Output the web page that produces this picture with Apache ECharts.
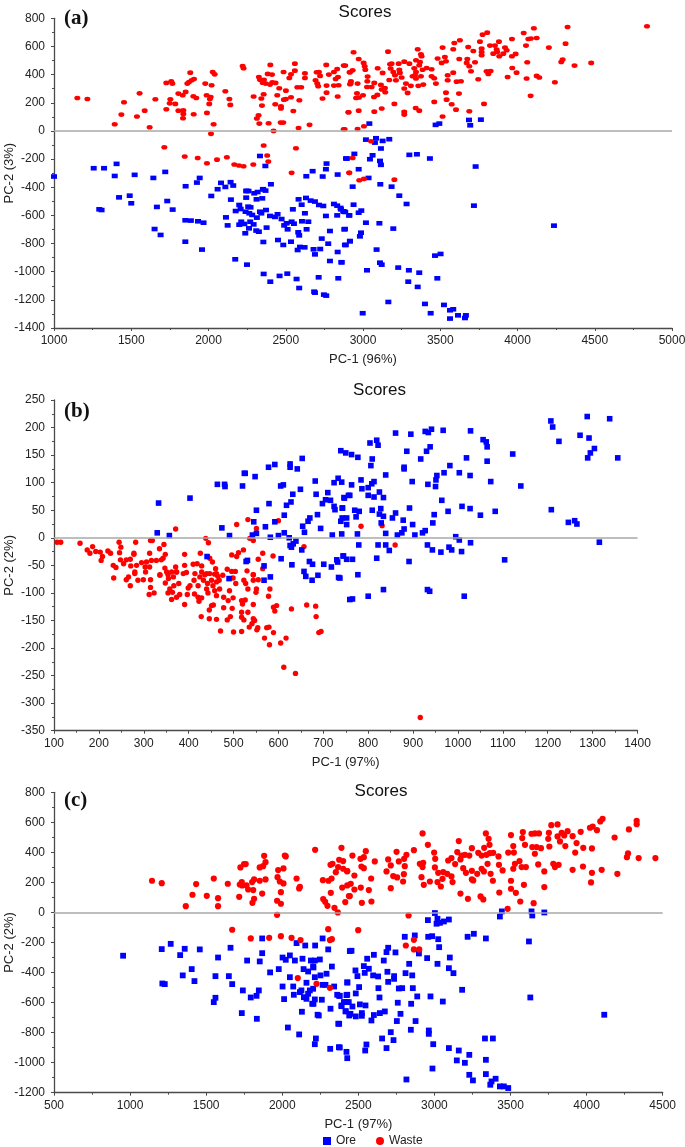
<!DOCTYPE html>
<html><head><meta charset="utf-8">
<style>html,body{margin:0;padding:0;background:#fff}#c{width:685px;height:1147px}</style>
<script src="https://cdn.jsdelivr.net/npm/echarts@6/dist/echarts.min.js"></script>
</head><body><div id="c"></div>
<script>
const wasteA=[[1151,234],[1216,227],[1393,47],[1436,116],[1453,204],[1537,102],[1554,267],[1587,144],[1619,26],[1656,225],[1727,154],[1727,341],[1753,225],[1749,196],[1759,353],[1766,336],[1785,192],[1805,265],[1805,144],[1833,253],[1837,147],[1837,121],[1835,90],[1852,277],[1863,336],[1882,414],[1874,348],[1891,360],[1906,369],[1904,118],[1902,246],[1921,234],[1979,336],[1988,253],[2014,241],[2009,227],[2005,192],[1990,128],[2020,324],[2027,419],[2040,402],[2033,47],[2016,-21],[2109,282],[2135,227],[2141,185],[2221,461],[2227,445],[2292,244],[2326,383],[2333,364],[2359,364],[2342,230],[2357,260],[2346,180],[2324,111],[2313,88],[2329,52],[2389,54],[2350,343],[2370,336],[2398,329],[2413,346],[2434,341],[2383,405],[2411,400],[2400,469],[2458,303],[2445,253],[2432,189],[2469,175],[2469,159],[2488,222],[2501,227],[2501,286],[2534,239],[2467,59],[2484,59],[2549,142],[2588,218],[2583,21],[2654,43],[2421,0],[2486,419],[2534,402],[2559,428],[2559,478],[2523,376],[2575,310],[2600,310],[2624,409],[2624,376],[2700,417],[2715,419],[2722,391],[2693,360],[2704,336],[2710,317],[2762,469],[2779,400],[2764,322],[2764,272],[2738,230],[2812,419],[2833,440],[2823,369],[2838,383],[2812,322],[2842,324],[2836,244],[2885,464],[2913,417],[2920,336],[2905,133],[2881,12],[1714,-116],[1846,-182],[1930,-192],[1990,-230],[2055,-204],[2119,-187],[2167,-239],[2197,-246],[2227,-251],[2290,-239],[2357,-104],[2380,-175],[2387,-218],[2538,-298],[2566,-123],[2911,-298],[2875,464],[2939,559],[2972,511],[3004,483],[3011,459],[3015,435],[2933,431],[2916,417],[3030,386],[3028,353],[2922,353],[2916,331],[2965,336],[3073,341],[3116,327],[3026,312],[3056,312],[3142,305],[3121,294],[3144,275],[2961,267],[3000,253],[2955,234],[2974,237],[3071,241],[3093,256],[2907,133],[2972,144],[3073,137],[3121,159],[3203,192],[3267,135],[3267,116],[3341,163],[3364,144],[2875,12],[2965,14],[3006,33],[3162,563],[3095,445],[3127,412],[3175,473],[3185,478],[3231,478],[3267,492],[3300,478],[3343,502],[3354,580],[3375,544],[3379,530],[3369,490],[3364,466],[3179,443],[3196,419],[3235,435],[3239,412],[3332,445],[3343,419],[3336,395],[3386,435],[3412,447],[3444,438],[3170,362],[3213,360],[3207,395],[3250,379],[3321,388],[3343,372],[3375,388],[3444,388],[3461,374],[3278,336],[3310,320],[3358,320],[3390,329],[3472,336],[3267,301],[3289,270],[3483,514],[3530,525],[3515,592],[3591,625],[3584,580],[3627,644],[3623,511],[3681,596],[3714,568],[3537,495],[3509,483],[3584,414],[3548,395],[3548,360],[3606,350],[3634,353],[3537,272],[3621,265],[3461,206],[3541,222],[3574,189],[3602,151],[3688,140],[3783,192],[3515,102],[3675,511],[3671,483],[3688,459],[3725,488],[3699,424],[3746,367],[3800,424],[3826,426],[3811,405],[3757,634],[3774,684],[3804,698],[3768,585],[3768,561],[3768,537],[3822,606],[3854,606],[3880,634],[3865,578],[3843,549],[3869,561],[3882,530],[3908,549],[3919,592],[3930,573],[3964,653],[3988,547],[3964,530],[3966,447],[3994,414],[3936,383],[4055,606],[4063,488],[4059,372],[4085,249],[4040,696],[4070,653],[4087,656],[4124,660],[4106,729],[4124,391],[4141,379],[4203,592],[4242,346],[4324,738],[4311,620],[4292,507],[4283,490],[4369,464],[4477,483],[4838,743],[3052,-73],[2933,-192],[2911,-298],[2976,-350],[3006,-341],[3203,-346]];
const oreA=[[1000,-324],[1257,-265],[1324,-265],[1405,-234],[1393,-320],[1522,-312],[1643,-334],[1720,-291],[1852,-393],[1943,-334],[1925,-367],[2081,-369],[2059,-414],[2109,-398],[2143,-364],[2160,-388],[2247,-426],[2333,-178],[2368,-249],[2404,-379],[2354,-414],[2633,-322],[2674,-286],[2739,-324],[2764,-232],[2760,-272],[2836,-310],[2896,-196],[1421,-472],[1490,-460],[1500,-514],[1666,-540],[1733,-498],[1768,-559],[1293,-557],[1308,-562],[1651,-697],[1690,-739],[1850,-635],[1886,-637],[1932,-642],[1968,-652],[1850,-787],[1958,-843],[2018,-462],[2145,-488],[2199,-526],[2176,-569],[2208,-555],[2113,-614],[2124,-671],[2199,-666],[2212,-645],[2232,-661],[2238,-727],[2262,-692],[2270,-645],[2292,-664],[2240,-574],[2257,-538],[2272,-543],[2264,-585],[2283,-597],[2313,-616],[2342,-585],[2333,-574],[2372,-562],[2244,-474],[2244,-427],[2259,-427],[2296,-443],[2318,-434],[2352,-415],[2369,-424],[2311,-486],[2348,-479],[2309,-708],[2326,-716],[2376,-687],[2398,-604],[2430,-611],[2447,-592],[2473,-626],[2490,-671],[2512,-699],[2506,-656],[2538,-645],[2553,-659],[2581,-720],[2587,-742],[2635,-699],[2605,-642],[2646,-645],[2624,-585],[2546,-557],[2603,-524],[2583,-486],[2631,-476],[2661,-495],[2689,-502],[2715,-526],[2743,-533],[2760,-604],[2812,-519],[2833,-531],[2833,-600],[2855,-547],[2872,-571],[2885,-576],[2911,-600],[2786,-711],[2883,-697],[2355,-789],[2450,-775],[2484,-810],[2534,-787],[2733,-765],[2775,-801],[2889,-810],[2915,-782],[2577,-846],[2592,-824],[2622,-827],[2680,-841],[2723,-839],[2689,-877],[2786,-924],[2836,-860],[2860,-933],[2173,-912],[2249,-950],[2357,-1016],[2460,-1030],[2510,-1014],[2400,-1071],[2570,-1052],[2587,-1116],[2684,-1142],[2689,-1149],[2747,-1163],[2762,-1170],[2713,-1040],[2840,-1047],[3041,52],[3470,43],[3494,52],[3686,78],[3763,80],[3694,40],[3019,-62],[3084,-52],[3077,-83],[3127,-71],[3170,-59],[3116,-125],[2890,-196],[2944,-163],[3045,-201],[3062,-173],[3110,-213],[3116,-241],[3300,-170],[3349,-166],[3433,-196],[3729,-253],[2972,-272],[3036,-334],[2933,-396],[3112,-379],[3185,-396],[3235,-460],[3282,-519],[3718,-531],[4236,-673],[2939,-524],[2857,-557],[2877,-574],[2911,-600],[2972,-581],[2989,-566],[3019,-652],[3106,-656],[3196,-694],[2879,-699],[2987,-723],[2980,-749],[2916,-784],[2883,-810],[3088,-843],[3502,-874],[3466,-886],[2862,-933],[3110,-936],[3121,-950],[3026,-990],[3228,-971],[3297,-990],[3364,-1007],[3481,-1047],[3293,-1071],[3354,-1108],[3164,-1215],[3401,-1229],[2998,-1295],[3438,-1295],[3524,-1236],[3563,-1274],[3584,-1267],[3615,-1310],[3563,-1333],[3660,-1329],[3666,-1310]];
const wasteB=[[107,-8],[115,-8],[158,-10],[245,-8],[249,-17],[282,-8],[315,-5],[319,-5],[371,16],[345,-12],[335,-20],[313,-28],[438,-1],[444,-9],[426,-28],[391,-30],[507,24],[532,33],[551,17],[536,-1],[544,-5],[600,31],[657,-16],[522,-22],[511,-27],[507,-34],[496,-31],[565,-28],[555,-39],[588,-33],[565,-56],[174,-22],[180,-28],[186,-16],[193,-25],[203,-26],[208,-34],[205,-41],[220,-24],[226,-28],[246,-27],[278,-28],[278,-30],[248,-40],[232,-50],[238,-54],[261,-40],[270,-39],[255,-47],[284,-50],[295,-45],[306,-44],[317,-41],[328,-41],[343,-37],[348,-30],[339,-40],[303,-53],[313,-53],[271,-51],[280,-62],[304,-62],[347,-55],[371,-53],[391,-50],[410,-48],[419,-47],[429,-51],[447,-37],[453,-44],[429,-62],[460,-56],[486,-57],[496,-61],[504,-61],[530,-60],[544,-67],[362,-62],[373,-62],[395,-63],[336,-67],[351,-62],[388,-65],[440,-65],[458,-66],[233,-73],[261,-76],[266,-71],[270,-87],[287,-77],[299,-76],[280,-65],[312,-103],[315,-90],[315,-76],[323,-100],[336,-68],[348,-82],[355,-74],[366,-71],[358,-93],[354,-100],[364,-99],[362,-112],[373,-108],[380,-103],[378,-83],[367,-87],[354,-67],[373,-62],[391,-121],[397,-103],[403,-87],[399,-91],[412,-77],[414,-65],[425,-71],[433,-77],[421,-87],[413,-102],[421,-108],[423,-115],[429,-109],[442,-83],[440,-93],[443,-100],[451,-77],[454,-87],[462,-80],[462,-105],[458,-96],[468,-77],[469,-93],[465,-70],[476,-68],[436,-67],[447,-65],[462,-65],[478,-108],[488,-114],[499,-109],[491,-96],[505,-83],[499,-73],[523,-77],[527,-83],[532,-93],[544,-77],[555,-76],[551,-93],[550,-99],[544,-67],[518,-114],[526,-113],[520,-120],[544,-121],[581,-93],[578,-106],[596,-123],[589,-126],[592,-133],[629,-129],[663,-122],[683,-124],[684,-143],[690,-172],[695,-170],[446,-131],[451,-123],[455,-122],[478,-127],[497,-128],[493,-143],[428,-143],[446,-147],[462,-148],[486,-149],[518,-135],[518,-144],[523,-149],[532,-135],[544,-147],[547,-150],[541,-156],[535,-162],[471,-169],[500,-171],[518,-170],[552,-167],[554,-163],[574,-163],[579,-162],[589,-172],[569,-182],[617,-182],[605,-191],[580,-194],[612,-235],[638,-246],[916,-326],[784,21],[831,22],[860,-13]];
const oreB=[[333,63],[403,72],[330,9],[357,4],[464,97],[480,97],[481,93],[524,117],[526,117],[520,94],[548,111],[578,128],[592,133],[626,134],[626,128],[642,125],[653,144],[474,18],[491,4],[545,29],[542,5],[551,8],[551,50],[579,62],[618,59],[628,65],[632,79],[605,94],[611,96],[649,88],[613,41],[592,29],[571,20],[582,1],[600,4],[613,9],[624,0],[654,21],[658,10],[666,30],[670,36],[687,42],[694,17],[629,-17],[633,-11],[639,-6],[652,-22],[626,-14],[682,103],[684,79],[698,62],[705,69],[710,82],[716,68],[724,57],[726,51],[742,54],[724,100],[733,108],[741,101],[747,72],[756,77],[739,158],[750,154],[742,36],[752,36],[739,30],[752,24],[720,5],[741,7],[745,-33],[752,-39],[730,-40],[732,-44],[718,-53],[701,-48],[676,-48],[669,-43],[630,-49],[606,-38],[568,-51],[531,-41],[528,-43],[441,-34],[490,-74],[568,-77],[582,-71],[657,-61],[661,-70],[675,-77],[688,-68],[734,-72],[759,-112],[763,151],[777,146],[804,172],[819,177],[822,168],[861,190],[895,188],[927,193],[934,191],[941,197],[967,195],[1028,194],[1056,178],[1063,174],[1065,165],[1207,212],[1211,201],[1225,175],[1288,220],[1338,216],[1272,186],[1292,181],[1304,162],[1295,154],[1289,145],[1356,145],[1122,152],[1065,139],[1019,145],[938,165],[930,157],[886,157],[917,143],[809,143],[806,131],[982,131],[880,128],[880,125],[839,114],[969,118],[1003,118],[1027,113],[953,113],[951,105],[1073,102],[1140,94],[898,102],[933,97],[950,93],[784,105],[813,102],[808,98],[763,96],[786,89],[800,91],[825,83],[800,77],[813,74],[834,73],[759,77],[746,73],[964,68],[1009,57],[1027,53],[743,54],[770,50],[780,48],[809,50],[828,53],[892,54],[825,43],[834,39],[861,45],[854,36],[947,42],[978,48],[1050,41],[1083,48],[1208,51],[773,38],[829,27],[878,32],[899,24],[944,27],[1246,28],[1260,31],[1265,25],[776,7],[839,8],[880,16],[875,9],[865,5],[904,5],[921,9],[927,13],[995,2],[1003,-4],[1028,-9],[1315,-8],[779,-13],[822,-13],[839,-13],[847,-23],[932,-13],[943,-22],[962,-26],[980,-17],[986,-22],[1008,-25],[744,-33],[765,-39],[819,-37],[891,-43],[1104,-40],[737,-73],[777,-67],[765,-111],[800,-106],[834,-94],[932,-94],[937,-97],[1014,-106]];
const wasteC=[[1144,211],[1208,195],[1366,42],[1410,118],[1434,189],[1504,111],[1550,226],[1578,95],[1578,42],[1642,191],[1717,104],[1721,186],[1725,300],[1749,322],[1760,322],[1734,202],[1736,180],[1765,180],[1776,153],[1809,149],[1802,202],[1815,220],[1852,211],[1890,220],[1868,126],[1815,91],[1804,64],[1852,300],[1874,308],[1890,335],[1881,377],[1973,282],[2008,293],[1969,235],[1984,206],[2008,193],[1991,135],[1966,78],[1991,58],[1966,-16],[2017,379],[2023,373],[2094,226],[2116,171],[2111,160],[2216,417],[2267,215],[2304,211],[2324,226],[2319,131],[2269,89],[2282,71],[2297,44],[2343,31],[2365,0],[2389,430],[2374,351],[2400,342],[2317,317],[2330,324],[2352,268],[2367,302],[2400,291],[2427,275],[2394,166],[2427,180],[2414,69],[2438,109],[1671,-115],[1793,-173],[1914,-169],[1991,-158],[2061,-169],[2120,-184],[2302,-111],[2313,-184],[2326,-178],[2461,379],[2514,357],[2536,368],[2549,408],[2608,340],[2520,306],[2536,295],[2426,275],[2474,246],[2584,226],[2450,191],[2474,153],[2516,166],[2569,149],[2444,109],[2523,64],[2586,73],[2499,-118],[2696,353],[2751,404],[2713,313],[2685,273],[2729,242],[2755,233],[2799,255],[2794,206],[2713,162],[2766,340],[2801,357],[2816,384],[2865,415],[2805,308],[2922,526],[2957,450],[2998,399],[3005,357],[2904,324],[2926,331],[2922,302],[3003,300],[3025,264],[3058,269],[3084,257],[3112,240],[3053,224],[2915,235],[2930,184],[2970,206],[3020,202],[3042,173],[3119,202],[3090,346],[3112,362],[3136,322],[3160,475],[3150,402],[3178,379],[3171,353],[3200,384],[3229,379],[3189,295],[3207,264],[3246,428],[3246,277],[3281,257],[3246,220],[3255,213],[3171,126],[3220,91],[3303,107],[3321,87],[3288,397],[3310,379],[3327,430],[3338,526],[3356,490],[3362,450],[3342,384],[3364,395],[3386,397],[3421,373],[3349,324],[3310,291],[3325,273],[3369,257],[3384,211],[3426,133],[3424,317],[3448,280],[3503,515],[3485,399],[3522,399],[3518,442],[3581,535],[3577,495],[3595,450],[3559,342],[3529,324],[3518,291],[3573,302],[3601,302],[3503,211],[3503,158],[3535,131],[3588,184],[3564,73],[3652,62],[3481,24],[3722,169],[3638,524],[3687,526],[3660,526],[3643,435],[3671,435],[3700,428],[3660,391],[3682,320],[3722,273],[3752,530],[3768,581],[3809,586],[3748,490],[3755,439],[3781,324],[3816,317],[3792,302],[3809,506],[3836,530],[3825,473],[3853,513],[3875,541],[3860,442],[3908,508],[3934,462],[3925,399],[3908,284],[3978,430],[3976,306],[3961,537],[4022,564],[4040,572],[4068,548],[4035,426],[4035,264],[4099,284],[4029,200],[4090,606],[4105,624],[4184,499],[4202,257],[4278,553],[4329,610],[4329,588],[4272,393],[4265,368],[4342,362],[4452,362],[2830,-20],[2865,-182],[2812,-220],[2865,-246],[2900,-246],[2102,-437],[2225,-475],[2313,-502]];
const oreC=[[954,-288],[1208,-244],[1267,-209],[1329,-284],[1359,-242],[1458,-246],[1578,-300],[1660,-235],[1769,-320],[1868,-173],[1868,-271],[1852,-326],[2002,-300],[2023,-315],[2050,-286],[2083,-320],[2094,-204],[2133,-308],[2151,-220],[2216,-220],[2265,-173],[2302,-246],[2188,-320],[2214,-320],[2247,-313],[2203,-360],[2326,-360],[2444,-257],[3003,-4],[2957,-51],[3020,-42],[3014,-75],[3036,-69],[3062,-60],[3095,-47],[3443,7],[3430,-27],[3638,7],[3643,-20],[3722,0],[2455,-255],[2558,-308],[2602,-282],[2667,-320],[2685,-264],[2696,-235],[2744,-266],[2805,-162],[2871,-153],[2959,-162],[2985,-158],[3025,-178],[3031,-231],[2898,-273],[2952,-304],[3101,-300],[3218,-162],[3259,-142],[3338,-173],[3621,-193],[2834,-342],[3020,-342],[2536,-357],[1405,-377],[1346,-419],[1423,-457],[1212,-473],[1228,-477],[1561,-424],[1649,-424],[1671,-477],[1741,-519],[1846,-519],[1831,-555],[1793,-566],[1561,-568],[1550,-597],[1734,-670],[1833,-708],[1920,-399],[1977,-377],[2002,-493],[2012,-577],[2050,-431],[2072,-493],[2076,-548],[2140,-377],[2170,-393],[2205,-366],[2214,-431],[2251,-419],[2291,-408],[2159,-468],[2116,-530],[2126,-519],[2142,-564],[2170,-541],[2181,-519],[2203,-508],[2159,-575],[2214,-579],[2197,-608],[2205,-608],[2260,-581],[2265,-482],[2284,-482],[2341,-493],[2361,-548],[2374,-555],[2427,-466],[2427,-548],[2405,-597],[2427,-597],[2389,-624],[2416,-657],[2440,-686],[2129,-661],[2232,-681],[2240,-686],[2317,-641],[2368,-741],[2374,-741],[2037,-766],[2111,-812],[2221,-839],[2214,-877],[2315,-908],[2372,-897],[2422,-928],[2427,-970],[3095,-371],[3125,-404],[2481,-386],[2569,-375],[2542,-402],[2494,-424],[2597,-419],[2630,-426],[2691,-395],[2735,-424],[2735,-442],[2696,-462],[2810,-404],[2854,-419],[2428,-466],[2505,-497],[2483,-539],[2422,-550],[2378,-555],[2632,-504],[2639,-566],[2766,-506],[2788,-504],[2858,-504],[2887,-559],[2974,-559],[3055,-593],[3182,-515],[3630,-566],[4116,-681],[2759,-601],[2847,-608],[2411,-597],[2437,-597],[2389,-619],[2461,-626],[2510,-612],[2547,-619],[2417,-659],[2448,-675],[2483,-692],[2523,-670],[2523,-688],[2586,-719],[2602,-683],[2641,-670],[2674,-659],[2777,-675],[2753,-723],[2876,-723],[2845,-781],[2713,-797],[2656,-839],[2731,-850],[2685,-903],[2963,-786],[2963,-808],[2992,-877],[3095,-903],[3160,-919],[3229,-948],[3147,-985],[3200,-1001],[3332,-839],[3384,-839],[3338,-981],[2987,-1039],[2816,-1112],[3229,-1081],[3253,-1118],[3338,-1076],[3402,-1107],[3375,-1125],[3367,-1147],[3430,-1158],[3456,-1158],[3485,-1169],[2378,-899],[2553,-879],[2545,-919]];

const panels=[
 {ore:oreA,waste:wasteA,tag:'(a)',yName:'PC-2 (3%)',xName:'PC-1 (96%)',x:[1000,5000,500],y:[-1400,800,200],
  top:18.3,bottom:328,left:54,right:672,tagY:3,titleX:360,titleY:-1,oreSize:[6,4.6],wasteSize:[6,4.6],zBlue:2},
 {ore:oreB,waste:wasteB,tag:'(b)',yName:'PC-2 (2%)',xName:'PC-1 (97%)',x:[100,1400,100],y:[-350,250,50],
  top:400,bottom:730.7,left:54,right:637.5,tagY:396,titleX:374.5,titleY:377,oreSize:[5.6,5.6],wasteSize:[5.4,5.4],zBlue:4},
 {ore:oreC,waste:wasteC,tag:'(c)',yName:'PC-2 (2%)',xName:'PC-1 (97%)',x:[500,4500,500],y:[-1200,800,200],
  top:792.3,bottom:1092.7,left:54,right:662.7,tagY:785,titleX:376,titleY:778,oreSize:[5.8,5.8],wasteSize:[6.2,6.2],zBlue:2}
];
const axisColor='#4a4a4a', textColor='#222', sans='"Liberation Sans",Arial,sans-serif';
const plain=v=>String(v);
const titles=[],grids=[],xs=[],ys=[],series=[];
panels.forEach((p,i)=>{
 titles.push({text:'Scores',left:p.titleX,top:p.titleY,textAlign:'center',
   textStyle:{fontFamily:sans,fontSize:17,fontWeight:'normal',color:'#111'}});
 titles.push({text:p.tag,left:59,top:p.tagY,textStyle:{fontFamily:'"Liberation Serif",serif',fontSize:21,fontWeight:'bold',color:'#111'}});
 grids.push({left:p.left,top:p.top,width:p.right-p.left,height:p.bottom-p.top,containLabel:false,outerBoundsMode:'none'});
 const tickStyle={axisLine:{onZero:false,lineStyle:{color:axisColor,width:1.3}},axisTick:{show:true,length:3,lineStyle:{color:axisColor,width:1}},
   minorTick:{show:true,splitNumber:2,length:2,lineStyle:{color:axisColor,width:1}},splitLine:{show:false},minorSplitLine:{show:false}};
 xs.push(Object.assign({type:'value',gridIndex:i,min:p.x[0],max:p.x[1],interval:p.x[2],name:p.xName,nameLocation:'middle',nameGap:25,nameMoveOverlap:false,
   nameTextStyle:{fontFamily:sans,fontSize:13,color:textColor},axisLabel:{fontFamily:sans,fontSize:12,color:textColor,margin:6.5,formatter:plain,showMinLabel:true,showMaxLabel:true,hideOverlap:false}},tickStyle));
 ys.push(Object.assign({type:'value',gridIndex:i,min:p.y[0],max:p.y[1],interval:p.y[2],name:p.yName,nameLocation:'middle',nameGap:38,nameRotate:90,nameMoveOverlap:false,
   nameTextStyle:{fontFamily:sans,fontSize:13,color:textColor},axisLabel:{fontFamily:sans,fontSize:12,color:textColor,margin:9,formatter:plain,showMinLabel:true,showMaxLabel:true,hideOverlap:false}},tickStyle));
 series.push({name:'Ore',type:'scatter',xAxisIndex:i,yAxisIndex:i,data:p.ore,symbol:'rect',symbolSize:p.oreSize,z:p.zBlue,
   itemStyle:{color:'#0000ff',opacity:1},silent:true,
   markLine:{silent:true,symbol:'none',label:{show:false},animation:false,lineStyle:{color:'#a8a8a8',width:1.6,type:'solid'},data:[{yAxis:0}]}});
 series.push({name:'Waste',type:'scatter',xAxisIndex:i,yAxisIndex:i,data:p.waste,symbol:'circle',symbolSize:p.wasteSize,z:3,
   itemStyle:{color:'#ff0000',opacity:1},silent:true});
});
const chart=echarts.init(document.getElementById('c'),null,{renderer:'canvas'});
chart.setOption({animation:false,backgroundColor:'#fff',title:titles,grid:grids,xAxis:xs,yAxis:ys,series:series,
 legend:{data:[{name:'Ore',icon:'rect'},{name:'Waste',icon:'circle'}],left:318,top:1130,itemWidth:8,itemHeight:8,itemGap:20,
   textStyle:{fontFamily:sans,fontSize:12,color:textColor},selectedMode:false}});
</script></body></html>
